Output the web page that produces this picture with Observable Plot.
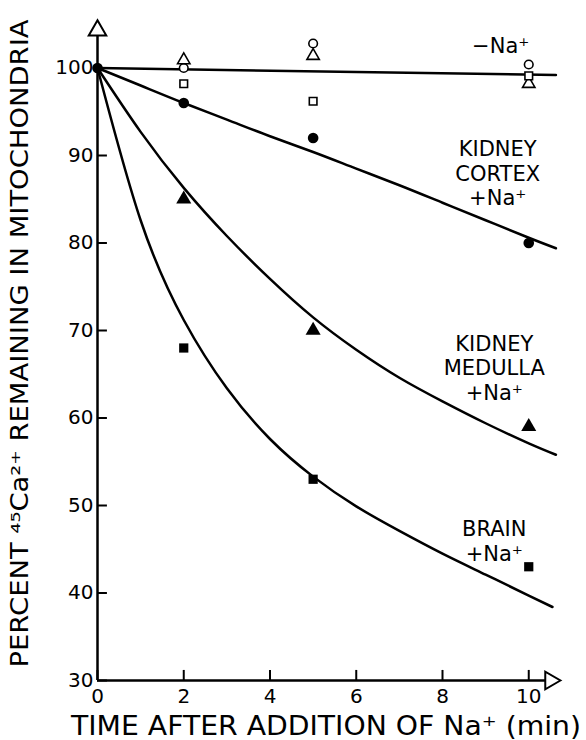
<!DOCTYPE html>
<html><head><meta charset="utf-8">
<script src="https://cdn.jsdelivr.net/npm/d3@7"></script>
<script src="https://cdn.jsdelivr.net/npm/@observablehq/plot@0.6"></script>
<style>body{margin:0;background:#fff}</style>
</head><body><div id="chart"></div>
<script>
// ---- data ----
const xTicks = [0, 2, 4, 6, 8, 10];
const yTicks = [30, 40, 50, 60, 70, 80, 90, 100];
const xAxisEnd = 10.5;   // arrow on time axis
const yAxisEnd = 104.3;  // arrow on percent axis
const xTitle = "TIME AFTER ADDITION OF Na⁺ (min)";
const yTitle = "PERCENT ⁴⁵Ca²⁺ REMAINING IN MITOCHONDRIA";

// -Na+ (open symbols)
const noNaCircles   = [{t:2, v:100}, {t:5, v:102.8}, {t:10, v:100.4}];
const noNaTriangles = [{t:2, v:100.9}, {t:5, v:101.4}, {t:10, v:98.2}];
const noNaSquares   = [{t:2, v:98.2}, {t:5, v:96.2}, {t:10, v:99.1}];
const noNaLine      = [{t:0, v:100}, {t:10.63, v:99.2}];

// +Na+ (filled symbols)
const cortexPts  = [{t:0, v:100}, {t:2, v:96}, {t:5, v:92}, {t:10, v:80}];
const medullaPts = [{t:2, v:85}, {t:5, v:70}, {t:10, v:59}];
const brainPts   = [{t:2, v:68}, {t:5, v:53}, {t:10, v:43}];

// fitted curves
const cortexCurve = [
  {t:0,v:100},{t:1,v:98},{t:2,v:96},{t:3,v:94.1},{t:4,v:92.2},{t:5,v:90.4},
  {t:6,v:88.5},{t:7,v:86.6},{t:8,v:84.6},{t:9,v:82.6},{t:10,v:80.6},{t:10.63,v:79.4}];
const medullaCurve = [
  {t:0,v:100},{t:1,v:92.7},{t:2,v:86.3},{t:3,v:80.8},{t:4,v:75.9},{t:5,v:71.5},
  {t:6,v:67.8},{t:7,v:64.6},{t:8,v:61.9},{t:9,v:59.4},{t:10,v:57.1},{t:10.63,v:55.8}];
const brainCurve = [
  {t:0,v:100},{t:1,v:82.6},{t:2,v:71.2},{t:3,v:63.4},{t:4,v:57.6},{t:5,v:53.3},
  {t:6,v:49.9},{t:7,v:47.1},{t:8,v:44.5},{t:9,v:42.1},{t:10,v:39.7},{t:10.55,v:38.4}];

// curve labels (anchored in data units)
const curveLabels = [
  {text:"−Na⁺", t:9.35, v:102.6},
  {text:"KIDNEY\nCORTEX\n+Na⁺", t:9.28, v:88.0},
  {text:"KIDNEY\nMEDULLA\n+Na⁺", t:9.2, v:65.8},
  {text:"BRAIN\n+Na⁺", t:9.2, v:46.0}
];

// ---- chart ----
const font = "DejaVu Sans, sans-serif";
const lw = 2.5;
const chart = Plot.plot({
  width: 586, height: 740,
  marginLeft: 97, marginRight: 6, marginTop: 8, marginBottom: 60,
  style: {fontFamily: font, background: "#fff", color: "#000"},
  x: {domain: [0, 11.2]},
  y: {domain: [30, 106.8]},
  marks: [
    // axis lines
    Plot.ruleX([0], {y1: 30, y2: yAxisEnd - 0.6, stroke: "#000", strokeWidth: lw}),
    Plot.ruleY([30], {x1: 0, x2: xAxisEnd - 0.1, stroke: "#000", strokeWidth: lw}),
    // inward ticks
    Plot.ruleX(xTicks, {x: d => d, y1: 30, y2: 31.15, stroke: "#000", strokeWidth: 2}),
    Plot.ruleY(yTicks, {y: d => d, x1: 0, x2: 0.23, stroke: "#000", strokeWidth: 2}),
    // arrows
    Plot.dot([yAxisEnd], {x: 0, y: d => d, symbol: "triangle", r: 6.5, fill: "#fff", stroke: "#000", strokeWidth: 2}),
    Plot.dot([xAxisEnd], {x: d => d, y: 30, symbol: "triangle", r: 6.5, rotate: 90, fill: "#fff", stroke: "#000", strokeWidth: 2}),
    // tick labels
    Plot.axisX({ticks: xTicks, tickSize: 0, tickPadding: 8, fontSize: 20, label: null, tickFormat: d => String(d)}),
    Plot.axisY({ticks: yTicks, tickSize: 0, tickPadding: 4, fontSize: 20, label: null}),
    // titles
    Plot.text([xTitle], {text: d => d, frameAnchor: "bottom", textAnchor: "middle", dx: -13, dy: 46, fontSize: 26, lineAnchor: "middle"}),
    Plot.text([yTitle], {text: d => d, frameAnchor: "left", textAnchor: "middle", rotate: -90, dx: -77, dy: -1, fontSize: 24, lineAnchor: "middle"}),
    // lines
    Plot.line(noNaLine, {x: "t", y: "v", stroke: "#000", strokeWidth: lw}),
    Plot.line(cortexCurve, {x: "t", y: "v", curve: "natural", stroke: "#000", strokeWidth: lw}),
    Plot.line(medullaCurve, {x: "t", y: "v", curve: "natural", stroke: "#000", strokeWidth: lw}),
    Plot.line(brainCurve, {x: "t", y: "v", curve: "natural", stroke: "#000", strokeWidth: lw}),
    // open symbols (-Na+)
    Plot.dot(noNaCircles, {x: "t", y: "v", symbol: "circle", r: 4.3, fill: "#fff", stroke: "#000", strokeWidth: 1.6}),
    Plot.dot(noNaTriangles, {x: "t", y: "v", symbol: "triangle", r: 4.6, fill: "#fff", stroke: "#000", strokeWidth: 1.6}),
    Plot.dot(noNaSquares, {x: "t", y: "v", symbol: "square", r: 4.3, fill: "#fff", stroke: "#000", strokeWidth: 1.6}),
    // filled symbols (+Na+)
    Plot.dot(cortexPts, {x: "t", y: "v", symbol: "circle", r: 5.3, fill: "#000"}),
    Plot.dot(medullaPts, {x: "t", y: "v", symbol: "triangle", r: 5.6, fill: "#000"}),
    Plot.dot(brainPts, {x: "t", y: "v", symbol: "square", r: 5.2, fill: "#000"}),
    // curve labels
    Plot.text(curveLabels, {x: "t", y: "v", text: "text", fontSize: 21, lineHeight: 1.17, lineAnchor: "middle", textAnchor: "middle", fill: "#000"})
  ]
});
document.getElementById("chart").appendChild(chart);
// stretch the titles to the reference lengths
d3.select(chart).selectAll("text").each(function() {
  const s = this.textContent;
  if (s === xTitle) { this.setAttribute("textLength", 510); this.setAttribute("lengthAdjust", "spacingAndGlyphs"); }
  if (s === yTitle) { this.setAttribute("textLength", 648); this.setAttribute("lengthAdjust", "spacingAndGlyphs"); }
});
</script>
</body></html>
